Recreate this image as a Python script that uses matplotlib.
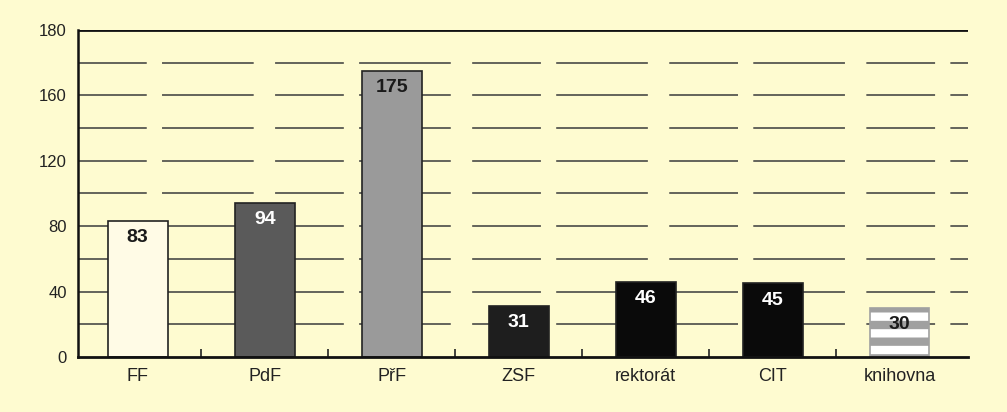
import numpy as np
import matplotlib.pyplot as plt

categories = ['FF', 'PdF', 'PřF', 'ZSF', 'rektorát', 'CIT', 'knihovna']
values = [83, 94, 175, 31, 46, 45, 30]
y_ticks = [0, 40, 80, 120, 160, 200]
y_tick_labels = ['0', '40', '80', '120', '160', '180']

bar_colors = ['#fffbe6', '#5a5a5a', '#9a9a9a', '#1e1e1e', '#0a0a0a', '#0a0a0a', '#ffffff']
text_colors = ['#1a1a1a', 'white', '#1a1a1a', 'white', 'white', 'white', '#1a1a1a']
bg = '#fefbd0'

plt.rcParams['font.family'] = ['Liberation Sans', 'DejaVu Sans']
plt.rcParams['hatch.linewidth'] = 6

fig = plt.figure(figsize=(10.07, 4.12), dpi=100, facecolor=bg)
ax = fig.add_axes([0.0775, 0.1335, 0.884, 0.794])
ax.set_facecolor(bg)

x = np.arange(len(categories))

# broken grid lines every 20
for g in range(20, 200, 20):
    ax.axhline(g, color='#3a3a3a', lw=1.1, ls=(0, (45, 10, 60, 14)), zorder=0)
ax.axhline(200, color='#111111', lw=2, zorder=1)

bars = ax.bar(x, values, width=0.47, color=bar_colors, edgecolor='#222222', lw=1.2, zorder=2)
bars[-1].set_hatch('-')
bars[-1].set_edgecolor('#a0a0a0')

for i, v in enumerate(values):
    ax.text(x[i], v - 5, str(v), ha='center', va='top', fontsize=14,
            fontweight='bold', color=text_colors[i], zorder=3)

ax.set_xlim(-0.47, 6.54)
ax.set_ylim(0, 200)
ax.set_yticks(y_ticks)
ax.set_yticklabels(y_tick_labels, fontsize=12, color='#222222')
ax.set_xticks(x)
ax.set_xticklabels(categories, fontsize=13, color='#222222')
ax.tick_params(axis='both', length=0, pad=8)
ax.set_xticks(x[:-1] + 0.5, minor=True)
ax.tick_params(axis='x', which='minor', direction='in', length=6, width=1.2, color='#222222')

for s in ['top', 'right']:
    ax.spines[s].set_visible(False)
ax.spines['left'].set_linewidth(1.8)
ax.spines['bottom'].set_linewidth(2)
ax.spines['left'].set_color('#111111')
ax.spines['bottom'].set_color('#111111')

fig.savefig('out.png', dpi=100, facecolor=bg)
